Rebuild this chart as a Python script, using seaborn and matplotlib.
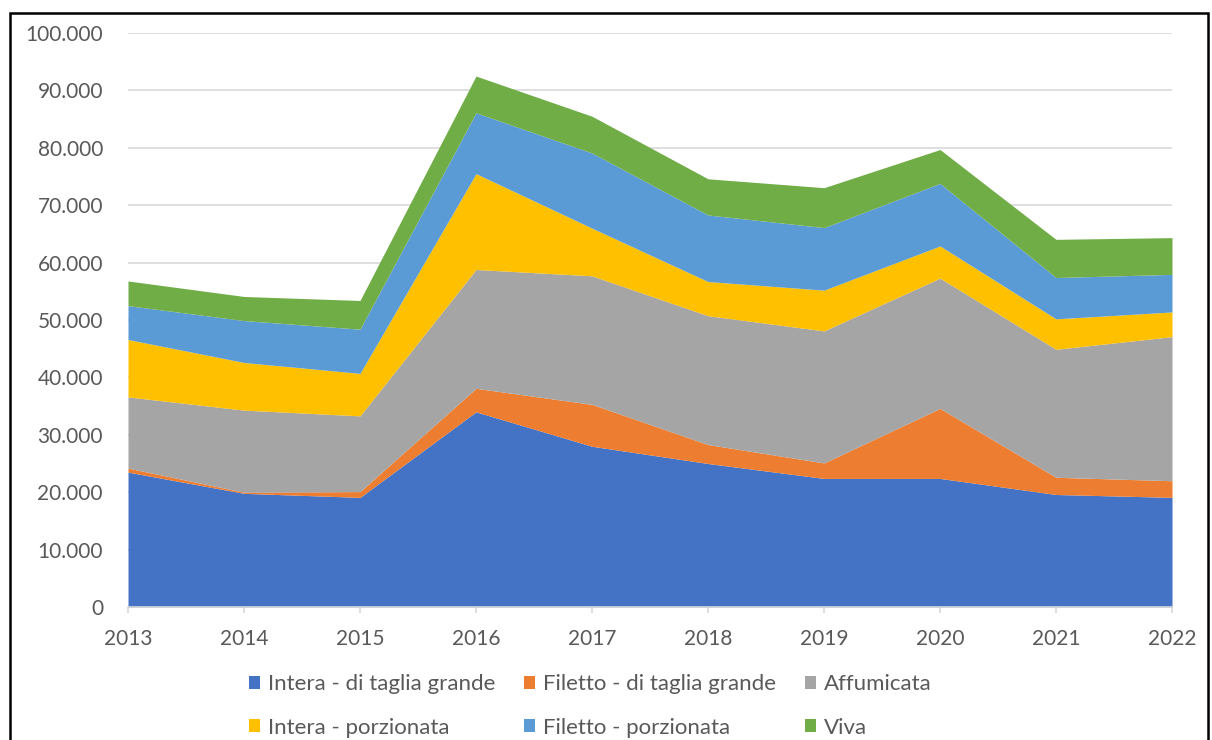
import numpy as np
import seaborn as sns
import matplotlib.pyplot as plt
from matplotlib.ticker import FuncFormatter
from matplotlib.patches import Rectangle

# Data (values in tonnes)
years = [2013, 2014, 2015, 2016, 2017, 2018, 2019, 2020, 2021, 2022]
series_names = [
    'Intera - di taglia grande',
    'Filetto - di taglia grande',
    'Affumicata',
    'Intera - porzionata',
    'Filetto - porzionata',
    'Viva',
]
intera_grande = [23500, 19800, 19100, 34000, 28000, 25000, 22400, 22400, 19600, 19100]
filetto_grande = [700, 200, 1000, 4100, 7300, 3300, 2700, 12200, 3000, 2900]
affumicata = [12400, 14300, 13200, 20700, 22400, 22450, 23000, 22700, 22300, 25100]
intera_porz = [10000, 8300, 7400, 16700, 8300, 5950, 7100, 5600, 5300, 4300]
filetto_porz = [5900, 7300, 7700, 10600, 13100, 11600, 10900, 10900, 7200, 6550]
viva = [4300, 4200, 5000, 6400, 6400, 6300, 6950, 5900, 6650, 6400]

colors = ['#4472C4', '#ED7D31', '#A5A5A5', '#FFC000', '#5B9BD5', '#70AD47']

sns.set_style('white')
plt.rcParams['font.family'] = ['Lato', 'DejaVu Sans']
FS = 15
TXT = '#595959'

fig = plt.figure(figsize=(12.12, 7.40), dpi=100)
ax = fig.add_axes([128 / 1212, 1 - 607 / 740, (1172 - 128) / 1212, (607 - 33) / 740])

ax.stackplot(years, intera_grande, filetto_grande, affumicata,
             intera_porz, filetto_porz, viva,
             colors=colors, labels=series_names, linewidth=0, zorder=2)

ax.set_xlim(years[0], years[-1])
ax.set_ylim(0, 100000)
ax.set_yticks(np.arange(0, 100001, 10000))
ax.set_xticks(years)
ax.yaxis.set_major_formatter(FuncFormatter(lambda v, p: f'{int(v):,}'.replace(',', '.')))

ax.grid(True, axis='y', color='#d9d9d9', linewidth=1.2, zorder=0)
ax.set_axisbelow(True)
for side in ['top', 'right', 'left']:
    ax.spines[side].set_visible(False)
ax.spines['bottom'].set_color('#d9d9d9')
ax.spines['bottom'].set_linewidth(1.2)
ax.spines['bottom'].set_zorder(3)

ax.tick_params(axis='x', which='major', length=4.5, width=1.2, color='#d9d9d9',
               labelsize=FS, labelcolor=TXT, pad=11.5, direction='out', bottom=True)
ax.tick_params(axis='y', length=0, labelsize=FS, labelcolor=TXT, pad=18)

# Legend: Excel fills row by row, matplotlib column by column -> reorder
order = [0, 3, 1, 4, 2, 5]
handles, labels = ax.get_legend_handles_labels()
fig.legend([handles[i] for i in order], [labels[i] for i in order],
           loc='center', bbox_to_anchor=(590 / 1212, 1 - 706 / 740), ncol=3,
           frameon=False, fontsize=16, labelcolor=TXT,
           handlelength=0.5, handleheight=0.5, handletextpad=0.35,
           columnspacing=1.3, labelspacing=1.05)

# outer chart border
fig.patches.append(Rectangle((10 / 1212, -0.05), (1208 - 10) / 1212, 1 - 13 / 740 + 0.05,
                             transform=fig.transFigure, fill=False,
                             edgecolor='black', linewidth=1.8, zorder=10))

fig.savefig('out.png', dpi=100)
